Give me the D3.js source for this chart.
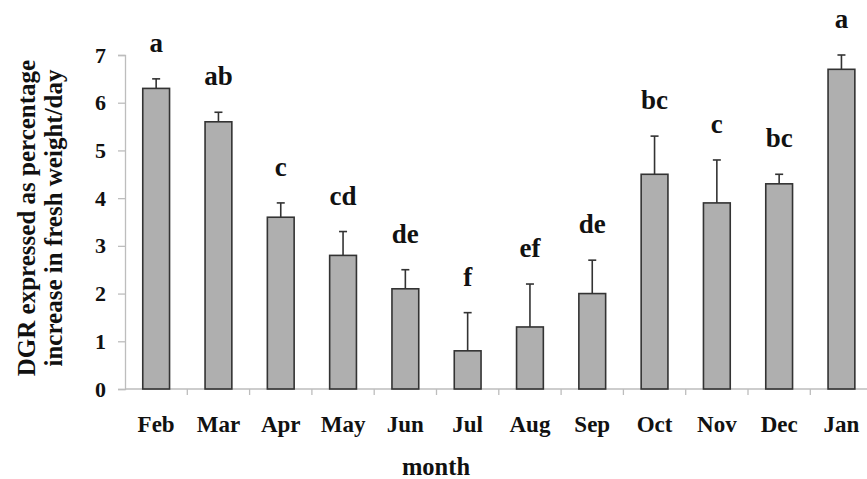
<!DOCTYPE html>
<html>
<head>
<meta charset="utf-8">
<script src="https://cdn.jsdelivr.net/npm/d3@7"></script>
<style>
  html, body { margin: 0; padding: 0; background: #fff; }
  svg { display: block; }
</style>
</head>
<body>
<svg id="chart" width="867" height="479"></svg>
<script>
// Daily growth rate by month, with standard-error bars and significance letters
const months = ["Feb", "Mar", "Apr", "May", "Jun", "Jul", "Aug", "Sep", "Oct", "Nov", "Dec", "Jan"];
const dgr = [6.3, 5.6, 3.6, 2.8, 2.1, 0.8, 1.3, 2.0, 4.5, 3.9, 4.3, 6.7];
const errorTop = [6.5, 5.8, 3.9, 3.3, 2.5, 1.6, 2.2, 2.7, 5.3, 4.8, 4.5, 7.0];
const groups = ["a", "ab", "c", "cd", "de", "f", "ef", "de", "bc", "c", "bc", "a"];
const yTicks = [0, 1, 2, 3, 4, 5, 6, 7];

const FONT = "Liberation Serif";
const INK = "#111";
const svg = d3.select("#chart");
const plotLeft = 125, plotTop = 55, plotBottom = 389, step = 62.3;

const x = d3.scaleBand().domain(months).range([plotLeft, plotLeft + step * months.length]).padding(0);
const y = d3.scaleLinear().domain([0, 7]).range([plotBottom, plotTop]);
const barW = x.bandwidth() * 0.43;
const cx = d => x(d) + x.bandwidth() / 2;

// Y axis
const yAxis = svg.append("g").attr("transform", `translate(${plotLeft},0)`)
  .call(d3.axisLeft(y).tickValues(yTicks).tickSize(7).tickPadding(12).tickFormat(d3.format("d")));
yAxis.select(".domain").attr("stroke", "#bdbdbd").attr("stroke-width", 1.3);
yAxis.selectAll(".tick line").attr("stroke", "#bdbdbd").attr("stroke-width", 1.3);
yAxis.selectAll(".tick text")
  .attr("font-size", 22).attr("font-family", FONT).attr("font-weight", "bold").attr("fill", INK);

// Base line with category boundary ticks
svg.append("line").attr("x1", plotLeft).attr("x2", 867).attr("y1", plotBottom).attr("y2", plotBottom)
  .attr("stroke", "#bdbdbd").attr("stroke-width", 1.5);
svg.selectAll(".xtick").data(months.slice(1)).enter().append("line")
  .attr("x1", d => x(d)).attr("x2", d => x(d))
  .attr("y1", plotBottom).attr("y2", plotBottom + 6)
  .attr("stroke", "#bdbdbd").attr("stroke-width", 1.3);

// Error bars
svg.selectAll(".err").data(months).enter().append("line")
  .attr("x1", cx).attr("x2", cx)
  .attr("y1", (d, i) => y(dgr[i])).attr("y2", (d, i) => y(errorTop[i]))
  .attr("stroke", "#333").attr("stroke-width", 1.6);
svg.selectAll(".cap").data(months).enter().append("line")
  .attr("x1", d => cx(d) - 4).attr("x2", d => cx(d) + 4)
  .attr("y1", (d, i) => y(errorTop[i])).attr("y2", (d, i) => y(errorTop[i]))
  .attr("stroke", "#333").attr("stroke-width", 1.6);

// Bars
svg.selectAll(".bar").data(months).enter().append("rect")
  .attr("x", d => cx(d) - barW / 2)
  .attr("width", barW)
  .attr("y", (d, i) => y(dgr[i]))
  .attr("height", (d, i) => plotBottom - y(dgr[i]))
  .attr("fill", "#afafaf").attr("stroke", "#333").attr("stroke-width", 1.6);

// Significance letters
svg.selectAll(".grp").data(months).enter().append("text")
  .attr("x", cx)
  .attr("y", (d, i) => y(errorTop[i]) - 27)
  .attr("text-anchor", "middle")
  .attr("font-family", FONT).attr("font-weight", "bold").attr("font-size", 27)
  .attr("fill", INK)
  .text((d, i) => groups[i]);

// Month labels
svg.selectAll(".mlab").data(months).enter().append("text")
  .attr("x", cx).attr("y", 432)
  .attr("text-anchor", "middle")
  .attr("font-family", FONT).attr("font-weight", "bold").attr("font-size", 23)
  .attr("fill", INK)
  .text(d => d);

// Axis titles
svg.append("text").attr("x", 436).attr("y", 475).attr("text-anchor", "middle")
  .attr("font-family", FONT).attr("font-weight", "bold").attr("font-size", 24.5)
  .attr("fill", INK).text("month");

const yt = svg.append("text").attr("transform", "translate(0,218) rotate(-90)")
  .attr("text-anchor", "middle")
  .attr("font-family", FONT).attr("font-weight", "bold").attr("font-size", 25)
  .attr("fill", INK);
yt.append("tspan").attr("x", 0).attr("y", 35).text("DGR expressed as percentage");
yt.append("tspan").attr("x", 0).attr("y", 62).text("increase in fresh weight/day");
</script>
</body>
</html>
